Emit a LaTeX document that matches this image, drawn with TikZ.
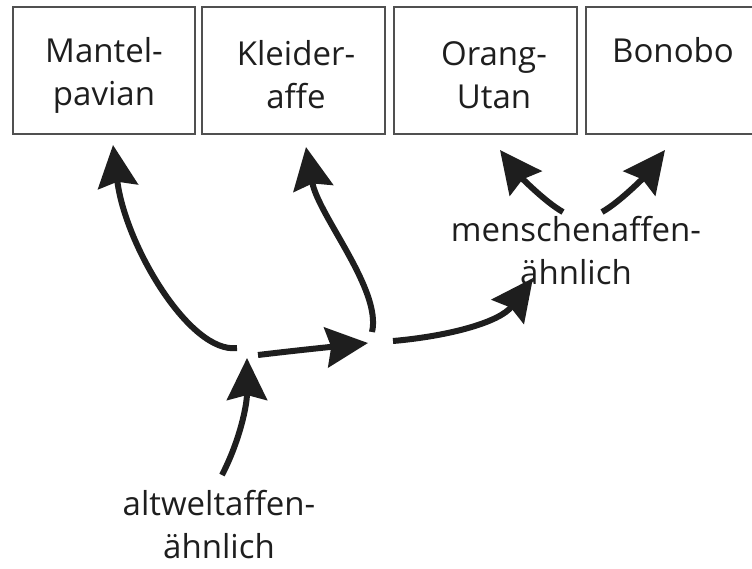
\documentclass[tikz,border=0pt]{standalone}
\usepackage{fontspec}
\setmainfont{Open Sans}
\usetikzlibrary{arrows.meta}
\definecolor{ink}{HTML}{1E1E1E}
\definecolor{frame}{HTML}{505050}
\tikzset{
  box/.style={draw=frame, line width=1.2pt, minimum width=#1, minimum height=127pt, inner sep=0pt},
  lbl/.style={font=\fontsize{33}{43}\selectfont, align=center, inner sep=0pt, text=ink},
  flow/.style={draw=ink, line width=6pt, -{Stealth[length=42pt, width=40pt, inset=5pt]}}
}
\begin{document}
\begin{tikzpicture}[x=1pt, y=-1pt]
\useasboundingbox (0,0) rectangle (752,568);
\clip (0,0) rectangle (752,568);
% boxes
\node[box=182pt] (b1) at (104,70.5) {};
\node[box=183pt] (b2) at (293.5,70.5) {};
\node[box=183pt] (b3) at (485.5,70.5) {};
\node[box=184pt] (b4) at (678,70.5) {};
% box texts
\node[lbl] (t1) at (104,75) {Mantel-\\pavian};
\node[lbl] (t2) at (296,75) {Kleider-\\affe};
\node[lbl] (t3) at (494,75) {Orang-\\Utan};
\node[lbl, anchor=base] (t4) at (673,62) {Bonobo};
% other labels
\node[lbl] (m) at (576,251) {menschenaffen-\\ähnlich};
\node[lbl] (a) at (219,525) {altweltaffen-\\ähnlich};
% arrow end points
\coordinate (p1s) at (237,348);
\coordinate (p1e) at (113,145);
\coordinate (p2s) at (372,332);
\coordinate (p2e) at (306,147);
\coordinate (p3s) at (258,355);
\coordinate (p3e) at (368,343);
\coordinate (p4s) at (393,341);
\coordinate (p4e) at (533,278);
\coordinate (p5s) at (563,212);
\coordinate (p5e) at (500,150);
\coordinate (p6s) at (602,212);
\coordinate (p6e) at (665,150);
\coordinate (p7s) at (222,475);
\coordinate (p7e) at (247,358);
% arrows
\draw[flow] (p1s) .. controls (190,354) and (125,245) .. (p1e);
\draw[flow] (p2s) .. controls (382,290) and (318,215) .. (p2e);
\draw[flow] (p3s) .. controls (300,350) and (330,347) .. (p3e);
\draw[flow] (p4s) .. controls (450,336) and (500,322) .. (p4e);
\draw[flow] (p5s) .. controls (545,202) and (520,176) .. (p5e);
\draw[flow] (p6s) .. controls (620,202) and (645,176) .. (p6e);
\draw[flow] (p7s) .. controls (240,440) and (247,405) .. (p7e);
\end{tikzpicture}
\end{document}
